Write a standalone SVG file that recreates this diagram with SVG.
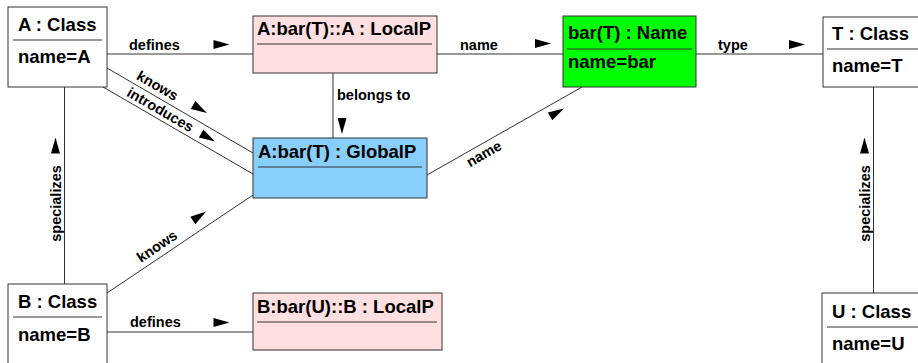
<svg xmlns="http://www.w3.org/2000/svg" width="918" height="363" viewBox="0 0 918 363">
<style>
.box{stroke:#333;stroke-width:1}
.sep{stroke:#333;stroke-width:1}
.nt{font-family:"Liberation Sans",Arial,sans-serif;font-weight:bold;font-size:18.5px;fill:#000}
.lb{font-family:"Liberation Sans",Arial,sans-serif;font-weight:bold;font-size:14.5px;fill:#000}
.cn{stroke:#333;stroke-width:1;fill:none}
.white{fill:#fff}
.pink{fill:#ffdfdf}
.blue{fill:#87cefa}
.green{fill:#00ff00}
</style>
<defs>
<path id="ar" d="M-8,-4.5 L8,0 L-8,4.5 Z" fill="#000"/>
</defs>
<rect width="918" height="363" fill="#fff"/>
<g id="connectors">
<line class="cn" x1="107" y1="54" x2="253" y2="54"/>
<line class="cn" x1="437" y1="54" x2="563" y2="54"/>
<line class="cn" x1="696" y1="54" x2="823" y2="54"/>
<line class="cn" x1="333" y1="73" x2="333" y2="138"/>
<line class="cn" x1="107" y1="68" x2="253" y2="153"/>
<line class="cn" x1="103" y1="87" x2="253" y2="174"/>
<line class="cn" x1="64.5" y1="87" x2="64.5" y2="284"/>
<line class="cn" x1="107" y1="293" x2="253" y2="195"/>
<line class="cn" x1="107" y1="332" x2="253" y2="332"/>
<line class="cn" x1="427" y1="175" x2="582" y2="87"/>
<line class="cn" x1="873.5" y1="87" x2="873.5" y2="293"/>
<use href="#ar" transform="translate(221.5,44.5)"/>
<use href="#ar" transform="translate(543,43.5)"/>
<use href="#ar" transform="translate(797,44.5)"/>
<use href="#ar" transform="translate(221.5,322.5)"/>
<use href="#ar" transform="translate(342,126) rotate(90)"/>
<use href="#ar" transform="translate(200,109) rotate(30)"/>
<use href="#ar" transform="translate(208,137.5) rotate(30)"/>
<use href="#ar" transform="translate(199.5,216) rotate(-33.9)"/>
<use href="#ar" transform="translate(557,112.5) rotate(-29.6)"/>
<use href="#ar" transform="translate(55.5,145.5) rotate(-90)"/>
<use href="#ar" transform="translate(864.5,145.5) rotate(-90)"/>
<text class="lb" x="129" y="49.5">defines</text>
<text class="lb" x="460" y="49.5">name</text>
<text class="lb" x="718" y="49.5">type</text>
<text class="lb" x="337" y="100">belongs to</text>
<text class="lb" transform="translate(135.5,78.7) rotate(30)">knows</text>
<text class="lb" transform="translate(125.8,95.5) rotate(30)">introduces</text>
<text class="lb" transform="translate(141,262.9) rotate(-33.9)">knows</text>
<text class="lb" transform="translate(469.9,167.4) rotate(-29.6)">name</text>
<text class="lb" text-anchor="middle" transform="translate(61,203.5) rotate(-90)">specializes</text>
<text class="lb" text-anchor="middle" transform="translate(870,203.5) rotate(-90)">specializes</text>
<text class="lb" x="130" y="327">defines</text>
</g>
<g id="A">
<rect class="box white" x="8" y="7" width="99" height="80"/>
<text class="nt" x="18" y="31">A : Class</text>
<line class="sep" x1="13" y1="40" x2="102" y2="40"/>
<text class="nt" x="18" y="63">name=A</text>
</g>
<g id="ALocalP">
<rect class="box pink" x="253" y="16" width="184" height="57"/>
<text class="nt" x="257" y="35">A:bar(T)::A : LocalP</text>
<line class="sep" x1="257" y1="44" x2="432" y2="44"/>
</g>
<g id="barName">
<rect class="box green" x="563" y="16" width="133" height="71"/>
<text class="nt" x="568" y="39">bar(T) : Name</text>
<line class="sep" x1="567" y1="49" x2="692" y2="49"/>
<text class="nt" x="568" y="67.5">name=bar</text>
</g>
<g id="T">
<rect class="box white" x="823" y="17" width="110" height="70"/>
<text class="nt" x="832" y="39.5">T : Class</text>
<line class="sep" x1="827" y1="49" x2="933" y2="49"/>
<text class="nt" x="832" y="72">name=T</text>
</g>
<g id="GlobalP">
<rect class="box blue" x="253" y="138" width="174" height="60"/>
<text class="nt" x="258" y="158">A:bar(T) : GlobalP</text>
<line class="sep" x1="258" y1="167" x2="422" y2="167"/>
</g>
<g id="B">
<rect class="box white" x="8" y="284" width="99" height="80"/>
<text class="nt" x="18" y="308">B : Class</text>
<line class="sep" x1="13" y1="317" x2="102" y2="317"/>
<text class="nt" x="18" y="341">name=B</text>
</g>
<g id="BLocalP">
<rect class="box pink" x="253" y="293" width="189" height="57"/>
<text class="nt" x="257" y="313">B:bar(U)::B : LocalP</text>
<line class="sep" x1="257" y1="322" x2="437" y2="322"/>
</g>
<g id="U">
<rect class="box white" x="822" y="293" width="111" height="80"/>
<text class="nt" x="832" y="318">U : Class</text>
<line class="sep" x1="827" y1="327" x2="933" y2="327"/>
<text class="nt" x="832" y="350">name=U</text>
</g>
</svg>
